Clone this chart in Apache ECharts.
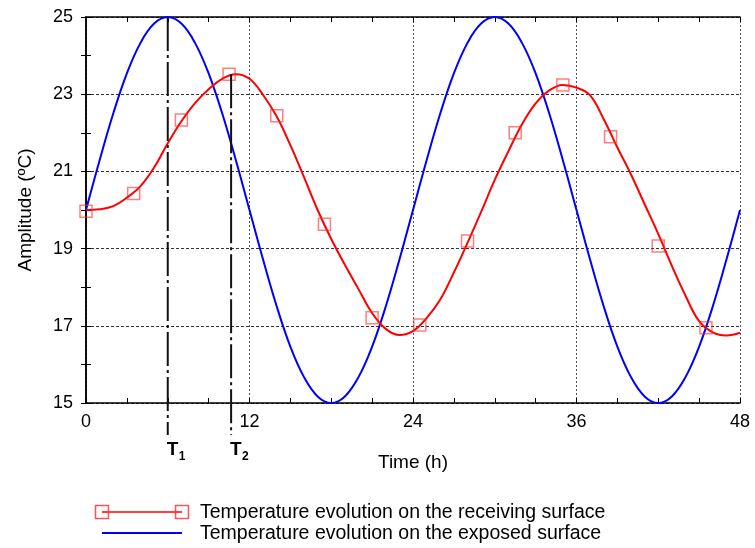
<!DOCTYPE html>
<html>
<head>
<meta charset="utf-8">
<script src="https://cdn.jsdelivr.net/npm/echarts@6/dist/echarts.min.js"></script>
<style>
  html, body { margin: 0; padding: 0; background: #fff; }
  #main { width: 755px; height: 548px; }
</style>
</head>
<body>
<div id="main"></div>
<script>
// hours of the day (h)
const hours = [0, 1, 2, 3, 4, 5, 6, 7, 8, 9, 10, 11, 12, 13, 14, 15, 16, 17, 18, 19, 20, 21, 22, 23, 24,
  25, 26, 27, 28, 29, 30, 31, 32, 33, 34, 35, 36, 37, 38, 39, 40, 41, 42, 43, 44, 45, 46, 47, 48];
// exposed surface (blue)
const exposed = [20, 21.29, 22.5, 23.54, 24.33, 24.83, 25, 24.83, 24.33, 23.54, 22.5, 21.29, 20,
  18.71, 17.5, 16.46, 15.67, 15.17, 15, 15.17, 15.67, 16.46, 17.5, 18.71, 20,
  21.29, 22.5, 23.54, 24.33, 24.83, 25, 24.83, 24.33, 23.54, 22.5, 21.29, 20,
  18.71, 17.5, 16.46, 15.67, 15.17, 15, 15.17, 15.67, 16.46, 17.5, 18.71, 20];
// receiving surface (red curve)
const receiving = [20, 20.02, 20.1, 20.32, 20.62, 21.1, 21.73, 22.3, 22.77, 23.13, 23.4, 23.52, 23.4,
  22.98, 22.42, 21.68, 20.85, 20.0, 19.25, 18.58, 17.95, 17.33, 16.92, 16.76, 16.86,
  17.2, 17.68, 18.38, 19.15, 19.95, 20.78, 21.52, 22.22, 22.76, 23.1, 23.24, 23.17,
  22.97, 22.35, 21.62, 20.92, 20.15, 19.38, 18.55, 17.78, 17.12, 16.83, 16.75, 16.82];
// measured points (red squares)
const markerHours = [0, 3.5, 7, 10.5, 14, 17.5, 21, 24.5, 28, 31.5, 35, 38.5, 42, 45.5];
const markerTemps = [19.97, 20.43, 22.33, 23.52, 22.44, 19.63, 17.21, 17.02, 19.2, 22.0, 23.24, 21.9, 19.07, 16.95];
// T1 / T2 marks
const tTimes = [6, 10.65];
const tPeaks = [25, 23.52];
const tNames = ['1', '2'];

const FONT = 'Liberation Sans, Arial, sans-serif';
const chart = echarts.init(document.getElementById('main'));

function frameAxis(pos) {
  return {
    type: 'value',
    position: pos,
    axisLine: { show: true, lineStyle: { color: '#000', width: 1.5 } },
    axisTick: { show: true, inside: true, length: 5, lineStyle: { color: '#000' } },
    axisLabel: { show: false },
    splitLine: { show: false },
  };
}

const option = {
  animation: false,
  backgroundColor: '#fff',
  grid: { left: 86, right: 15, top: 17, bottom: 145 },
  xAxis: [
    {
      type: 'value',
      min: 0,
      max: 48,
      interval: 12,
      position: 'bottom',
      name: 'Time (h)',
      nameLocation: 'middle',
      nameGap: 50,
      nameTextStyle: { color: '#000', fontSize: 19, fontFamily: FONT },
      axisLine: { lineStyle: { color: '#000', width: 1.5 } },
      axisTick: { inside: true, length: 5, lineStyle: { color: '#000' } },
      minorTick: { show: true, splitNumber: 4, length: 5, lineStyle: { color: '#000' } },
      axisLabel: { color: '#000', fontSize: 18, margin: 10, fontFamily: FONT },
      splitLine: { show: true, lineStyle: { color: '#555', width: 1, type: [2, 2] } },
    },
    Object.assign(frameAxis('top'), {
      min: 0, max: 48, interval: 12,
      minorTick: { show: true, splitNumber: 4, length: 5, lineStyle: { color: '#000' } },
    }),
  ],
  yAxis: [
    {
      type: 'value',
      min: 15,
      max: 25,
      interval: 2,
      name: 'Amplitude (ºC)',
      nameLocation: 'middle',
      nameGap: 51,
      nameTextStyle: { color: '#000', fontSize: 19, fontFamily: FONT },
      axisLine: { show: true, lineStyle: { color: '#000', width: 1.5 } },
      axisTick: { show: true, inside: true, length: 5, lineStyle: { color: '#000' } },
      minorTick: { show: true, splitNumber: 2, length: 5, lineStyle: { color: '#000' } },
      axisLabel: { color: '#000', fontSize: 18, margin: 13, fontFamily: FONT },
      splitLine: { show: true, lineStyle: { color: '#333', width: 1, type: [3, 2] } },
    },
    Object.assign(frameAxis('right'), {
      min: 15, max: 25, interval: 2,
      minorTick: { show: true, splitNumber: 2, length: 5, lineStyle: { color: '#000' } },
    }),
  ],
  series: [
    {
      name: 'exposed',
      type: 'line',
      smooth: 0.4,
      showSymbol: false,
      data: hours.map((h, i) => [h, exposed[i]]),
      lineStyle: { color: '#0000ff', width: 2 },
      itemStyle: { color: '#0000ff' },
      z: 3,
    },
    {
      name: 'receiving',
      type: 'line',
      smooth: 0.4,
      showSymbol: false,
      data: hours.map((h, i) => [h, receiving[i]]),
      lineStyle: { color: '#ff0000', width: 2 },
      itemStyle: { color: '#ff0000' },
      z: 4,
    },
    {
      name: 'measured',
      type: 'scatter',
      symbol: 'rect',
      symbolSize: 12,
      data: markerHours.map((h, i) => [h, markerTemps[i]]),
      itemStyle: { color: 'rgba(0,0,0,0)', borderColor: 'rgba(255,40,40,0.75)', borderWidth: 1.5 },
      z: 5,
    },
  ],
};
chart.setOption(option);

// T1/T2 vertical marks, legend
const gfx = [];
tTimes.forEach((t, i) => {
  const p = chart.convertToPixel({ seriesIndex: 0 }, [t, tPeaks[i]]);
  gfx.push({
    type: 'line',
    z: 10,
    shape: { x1: p[0], y1: p[1], x2: p[0], y2: 435 },
    style: { stroke: '#111', lineWidth: 2, lineDash: [34, 4, 3, 4] },
  });
  gfx.push({
    type: 'text', z: 10, x: p[0] - 1, y: 440,
    style: { text: 'T', font: 'bold 19px ' + FONT, fill: '#000' },
  });
  gfx.push({
    type: 'text', z: 10, x: p[0] + 11, y: 451,
    style: { text: tNames[i], font: 'bold 12px ' + FONT, fill: '#000' },
  });
});

// legend
gfx.push({ type: 'line', shape: { x1: 102, y1: 512, x2: 182, y2: 512 }, style: { stroke: '#ff0000', lineWidth: 1.5 } });
[102, 182].forEach(function (x) {
  gfx.push({ type: 'rect', shape: { x: x - 6.5, y: 505.5, width: 13, height: 13 },
    style: { fill: 'none', stroke: 'rgba(255,40,40,0.8)', lineWidth: 1.5 } });
});
gfx.push({ type: 'line', shape: { x1: 102, y1: 533, x2: 182, y2: 533 }, style: { stroke: '#0000ff', lineWidth: 2 } });
gfx.push({ type: 'text', x: 200, y: 513,
  style: { text: 'Temperature evolution on the receiving surface', font: '19.5px ' + FONT, fill: '#000', verticalAlign: 'middle' } });
gfx.push({ type: 'text', x: 200, y: 534,
  style: { text: 'Temperature evolution on the exposed surface', font: '19.5px ' + FONT, fill: '#000', verticalAlign: 'middle' } });

chart.setOption({ graphic: gfx });
</script>
</body>
</html>
